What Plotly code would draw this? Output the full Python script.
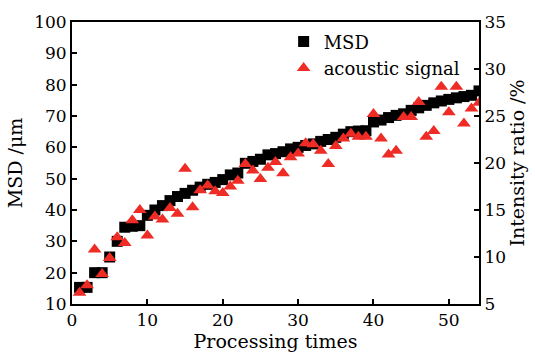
import plotly.graph_objects as go

processing_times = list(range(1, 55))
msd_um = [15.3, 15.3, 20.0, 20.0, 25.0, 30.0, 34.5, 34.8, 35.0, 38.3,
          40.0, 41.4, 43.0, 44.3, 45.3, 46.3, 47.3, 48.2, 48.8, 49.7,
          51.2, 51.8, 54.9, 55.5, 56.2, 57.6, 58.0, 58.6, 59.5, 60.0,
          60.6, 61.1, 61.9, 62.5, 63.2, 64.2, 65.0, 65.2, 65.3, 68.1,
          68.7, 69.5, 70.2, 70.7, 71.8, 72.6, 73.4, 74.2, 74.8, 75.3,
          75.8, 76.2, 76.6, 78.0]
acoustic_ratio = [6.2, 7.0, 10.8, 8.2, 9.9, 12.1, 11.5, 13.9, 15.0, 12.3,
                  14.3, 14.0, 15.2, 14.6, 19.4, 15.3, 17.1, 17.6, 17.0, 16.8,
                  17.5, 18.1, 19.9, 19.2, 18.3, 19.5, 20.1, 18.9, 20.6, 21.0,
                  22.1, 22.0, 21.3, 19.9, 21.8, 22.6, 23.1, 22.8, 22.8, 25.2,
                  22.6, 20.9, 21.3, 24.9, 24.9, 26.5, 22.8, 23.4, 28.1, 25.4,
                  28.1, 24.2, 25.8, 26.4]

x_ticks = [0, 10, 20, 30, 40, 50]
left_ticks = [10, 20, 30, 40, 50, 60, 70, 80, 90, 100]
right_ticks = [5, 10, 15, 20, 25, 30, 35]

FONT = "DejaVu Serif"

fig = go.Figure()
fig.add_trace(go.Scatter(
    x=processing_times, y=msd_um, mode="markers", name="MSD",
    marker=dict(symbol="square", size=11, color="black"),
    cliponaxis=True,
))
fig.add_trace(go.Scatter(
    x=processing_times, y=acoustic_ratio, mode="markers", name="acoustic signal",
    marker=dict(symbol="triangle-up", size=12, color="#ee2b24"),
    yaxis="y2", cliponaxis=True,
))

axis_common = dict(
    showline=True, linecolor="black", linewidth=2,
    ticks="inside", ticklen=5, tickwidth=1.5, tickcolor="black",
    showgrid=False, zeroline=False,
    tickfont=dict(family=FONT, size=17, color="black"),
)

fig.update_layout(
    width=535, height=358,
    margin=dict(l=72, r=56, t=14, b=54),
    paper_bgcolor="white", plot_bgcolor="white",
    showlegend=True,
    legend=dict(x=0.52, y=0.995, xanchor="left", yanchor="top",
                font=dict(family=FONT, size=18, color="black"),
                bgcolor="rgba(0,0,0,0)", tracegroupgap=0),
    xaxis=dict(range=[0, 54], tickvals=x_ticks, mirror=True,
               title=dict(text="Processing times", standoff=0,
                          font=dict(family=FONT, size=19, color="black")),
               **axis_common),
    yaxis=dict(range=[10, 100], tickvals=left_ticks,
               title=dict(text="MSD /μm", standoff=6,
                          font=dict(family=FONT, size=19, color="black")),
               **axis_common),
    yaxis2=dict(range=[5, 35], tickvals=right_ticks, overlaying="y", side="right",
                title=dict(text="Intensity ratio /%", standoff=4,
                           font=dict(family=FONT, size=19, color="black")),
                **axis_common),
)

fig.write_html("out.html")
